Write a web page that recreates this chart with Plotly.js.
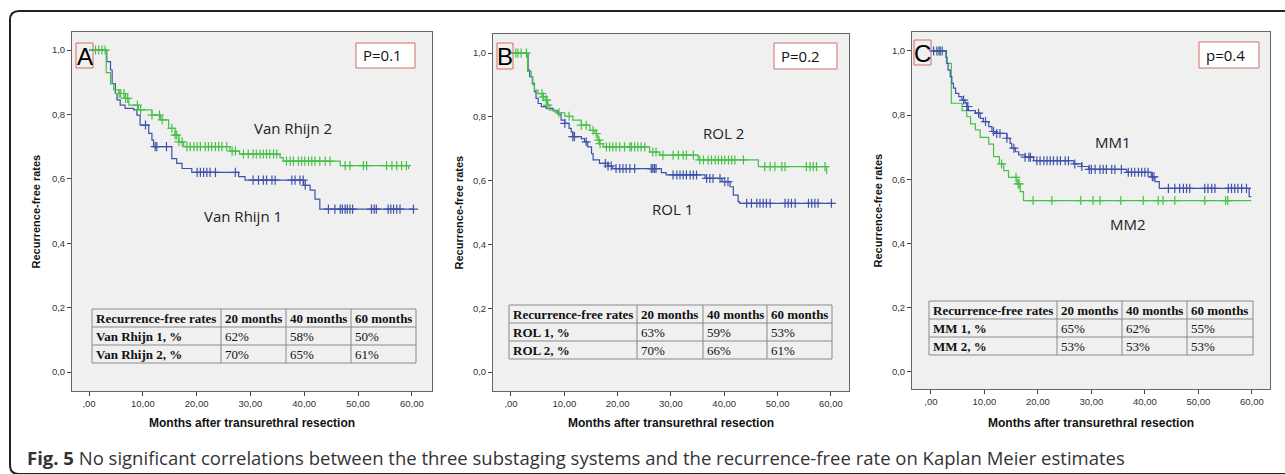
<!DOCTYPE html>
<html><head><meta charset="utf-8">
<script src="https://cdn.plot.ly/plotly-3.0.1.min.js"></script>
<style>html,body{margin:0;padding:0;background:#fff;}#chart{width:1285px;height:474px;}</style>
</head><body><div id="chart"></div>
<script>
// ---------- DATA ----------
const xTickVals = [0,10,20,30,40,50,60];
const xTickText = [',00','10,00','20,00','30,00','40,00','50,00','60,00'];
const yTickVals = [0,0.2,0.4,0.6,0.8,1.0];
const yTickText = ['0,0','0,2','0,4','0,6','0,8','1,0'];

// Panel A: Van Rhijn
const vr1_t = [0,3.3,4.0,4.3,4.9,5.2,5.8,6.7,8.3,8.9,9.5,11.1,11.7,12.0,15.4,16.3,17.3,19.1,27.8,29.0,39.9,41.1,42.0,42.9,60.3];
const vr1_s = [1.0,0.964,0.938,0.896,0.865,0.845,0.829,0.819,0.814,0.798,0.767,0.741,0.72,0.70,0.663,0.648,0.632,0.62,0.607,0.596,0.58,0.565,0.537,0.506,0.506];
const vr1_c = [10.5,12.3,12.6,14.4,20.1,20.7,21.3,21.9,22.5,23.5,27.2,30.5,31.5,32.4,33.0,34.0,34.6,37.7,38.3,39.2,39.8,40.2,44.5,45.7,46.7,47.1,47.6,48.0,48.5,49.0,52.5,53.0,53.4,55.6,56.1,56.6,57.2,57.8,60.3];
const vr2_t = [0,3.2,4.0,4.6,5.5,6.7,7.4,9.2,11.7,13.3,14.8,16.0,16.7,17.6,26.2,28.0,35.5,36.1,46.7,59.4,59.5];
const vr2_s = [1.0,0.93,0.895,0.876,0.865,0.85,0.829,0.814,0.798,0.783,0.757,0.736,0.715,0.70,0.686,0.677,0.666,0.655,0.641,0.632,0.632];
const vr2_c = [1.2,1.8,2.4,3.0,5.6,5.9,6.5,6.8,7.2,9.0,9.6,11.7,13.1,13.6,15.4,16.0,16.3,16.7,17.3,18.2,18.8,19.5,20.1,20.7,21.6,22.2,22.8,23.5,24.1,24.7,25.6,26.6,27.2,28.7,29.6,30.5,31.1,31.8,32.4,33.0,33.6,34.3,34.9,36.7,37.4,38.0,38.9,39.5,40.1,40.8,41.4,42.0,42.9,43.9,44.8,47.6,48.5,51.0,51.6,55.3,56.3,57.2,58.1,59.0];

// Panel B: ROL
const rol1_t = [0,3.2,3.5,4.0,4.4,4.7,5.1,5.7,6.6,7.9,8.8,9.4,10.1,10.9,11.3,11.6,13.2,13.8,14.4,15.1,15.4,16.6,18.2,19.1,28.2,29.1,36.4,39.6,41.1,41.7,42.6,42.9,60.4];
const rol1_s = [1.0,0.947,0.926,0.905,0.879,0.858,0.842,0.832,0.827,0.819,0.809,0.79,0.78,0.764,0.753,0.738,0.732,0.722,0.706,0.685,0.665,0.654,0.646,0.638,0.625,0.618,0.607,0.597,0.581,0.555,0.534,0.529,0.529];
const rol1_c = [10.1,11.6,11.9,14.1,17.7,18.2,18.8,19.7,20.4,21.0,21.6,22.3,23.2,26.3,26.6,26.9,27.2,30.4,31.1,31.7,32.3,32.9,33.6,34.2,34.8,36.7,37.3,37.9,39.2,40.1,40.7,44.2,45.1,46.1,46.7,47.3,47.9,48.6,51.4,52.0,52.6,53.3,55.8,56.4,57.0,57.6,60.1];
const rol2_t = [0,3.1,3.8,4.1,4.4,5.1,6.0,6.6,6.9,7.3,8.5,10.1,11.6,13.2,14.8,15.7,16.3,16.6,17.3,26.0,27.9,35.1,46.4,59.2,59.3];
const rol2_s = [1.0,0.943,0.926,0.9,0.884,0.873,0.863,0.853,0.837,0.821,0.813,0.802,0.79,0.774,0.758,0.748,0.727,0.716,0.706,0.69,0.68,0.665,0.644,0.623,0.623];
const rol2_c = [0.9,1.3,1.9,2.9,5.8,6.1,6.6,6.7,6.9,9.0,10.9,13.2,14.1,15.4,16.0,16.5,16.7,17.9,18.5,19.1,19.7,20.4,21.3,22.3,22.6,23.2,23.8,24.4,25.1,26.6,27.2,28.5,30.4,31.4,32.3,32.9,34.2,35.4,36.1,37.0,37.6,38.3,38.9,39.5,40.1,40.8,41.4,42.0,43.6,47.6,48.6,49.5,50.8,51.4,55.4,56.1,56.7,57.3,58.9];

// Panel C: MM
const mm1_t = [0,2.8,3.0,3.2,3.6,3.9,4.2,4.6,5.2,5.8,6.4,6.7,7.0,8.3,9.2,9.8,10.8,11.4,12.0,14.2,14.8,15.1,15.8,16.4,17.6,19.2,26.7,28.2,29.5,36.6,41.2,41.9,42.7,59.5,59.9];
const mm1_s = [1.0,0.98,0.961,0.94,0.92,0.899,0.884,0.868,0.858,0.847,0.837,0.827,0.814,0.806,0.79,0.78,0.764,0.749,0.743,0.728,0.712,0.697,0.686,0.676,0.669,0.658,0.648,0.64,0.631,0.622,0.608,0.593,0.572,0.546,0.546];
const mm1_c = [0.5,1.1,1.7,2.1,6.1,6.7,6.9,8.9,10.2,11.7,12.3,12.9,14.2,15.5,17.6,18.3,18.6,19.8,20.4,21.1,21.7,22.3,22.9,23.6,24.2,25.1,25.7,26.9,28.2,29.6,30.0,30.7,31.6,32.2,32.8,33.8,34.4,35.6,36.9,37.5,38.1,38.8,39.4,40.0,40.6,41.4,41.7,44.4,45.6,46.5,47.2,47.8,48.4,51.2,51.8,52.5,53.1,55.6,56.2,56.8,57.4,58.1,59.0];
const mm2_t = [0,2.9,3.8,5.8,6.7,7.4,8.3,9.2,10.8,11.7,12.8,13.6,14.5,16.1,16.7,17.3,59.9];
const mm2_s = [1.0,0.961,0.837,0.814,0.795,0.773,0.754,0.731,0.71,0.671,0.648,0.627,0.606,0.586,0.562,0.534,0.534];
const mm2_c = [1.4,1.7,13.2,15.9,16.3,16.5,19.1,22.6,28.0,30.3,31.6,35.5,39.7,42.5,43.4,45.6,51.2,55.1,55.5];

// Tables
const tableHeader = ['Recurrence-free rates','20 months','40 months','60 months'];
const tableA = [['Van Rhijn 1, %','62%','58%','50%'],['Van Rhijn 2, %','70%','65%','61%']];
const tableB = [['ROL 1, %','63%','59%','53%'],['ROL 2, %','70%','66%','61%']];
const tableC = [['MM 1, %','65%','62%','55%'],['MM 2, %','53%','53%','53%']];

const panelLetters = ['A','B','C'];
const pValues = ['P=0.1','P=0.2','p=0.4'];
const curveLabels = [['Van Rhijn 2','Van Rhijn 1'],['ROL 2','ROL 1'],['MM1','MM2']];
const xTitle = 'Months after transurethral resection';
const yTitle = 'Recurrence-free rates';
const captionBold = 'Fig. 5';
const captionText = ' No significant correlations between the three substaging systems and the recurrence-free rate on Kaplan Meier estimates';

// ---------- LAYOUT / DRAW ----------
const W = 1285, H = 474;
const px = x => x / W, py = y => 1 - y / H;
const BLUE = '#3f52aa', GREEN = '#48c048';

function stepAt(ts, ss, t) { let v = ss[0]; for (let i = 0; i < ts.length; i++) { if (ts[i] <= t) v = ss[i]; } return v; }

const panels = [
  {box:[72,32,432,391], xr:[-3.16,63.75], yr:[-0.059,1.056],
   curves:[[vr1_t,vr1_s,vr1_c,BLUE],[vr2_t,vr2_s,vr2_c,GREEN]], table:tableA,
   tx:[92,221,286,351,416], ty:[309,327,345,363], ytx:36,
   letterBox:[76,43,93,68], pBox:[356,43,415,68], labelPos:[[293,128],[243,216]]},
  {box:[493,34,849,391], xr:[-3.375,63.4], yr:[-0.0596,1.06],
   curves:[[rol1_t,rol1_s,rol1_c,BLUE],[rol2_t,rol2_s,rol2_c,GREEN]], table:tableB,
   tx:[509,637,703,767,832], ty:[305,323,341,359], ytx:458,
   letterBox:[497,43,513,69], pBox:[774,43,837,69], labelPos:[[723,133],[672,209]]},
  {box:[912,32,1270,389], xr:[-3.55,63.4], yr:[-0.053,1.059],
   curves:[[mm2_t,mm2_s,mm2_c,GREEN],[mm1_t,mm1_s,mm1_c,BLUE]], table:tableC,
   tx:[929,1057,1122,1187,1253], ty:[301,319,337,355], ytx:877,
   letterBox:[914,40,931,65], pBox:[1199,42,1259,68], labelPos:[[1113,142],[1128,224]]}
];

const data = [], shapes = [], annotations = [];
const layout = {width:W, height:H, margin:{l:0,r:0,t:0,b:0}, paper_bgcolor:'#ffffff', plot_bgcolor:'#f0f0f0', showlegend:false};

panels.forEach((p, i) => {
  const n = i === 0 ? '' : String(i + 1);
  const xa = 'x' + n, ya = 'y' + n;
  layout['xaxis' + n] = {domain:[px(p.box[0]), px(p.box[2])], range:p.xr, anchor:ya,
    showline:true, mirror:true, linecolor:'#666', linewidth:1, ticks:'outside', ticklen:4, tickcolor:'#444',
    tickvals:xTickVals, ticktext:xTickText, tickfont:{family:'Liberation Sans, Arial', size:9.5, color:'#333'},
    showgrid:false, zeroline:false, fixedrange:true};
  layout['yaxis' + n] = {domain:[py(p.box[3]), py(p.box[1])], range:p.yr, anchor:xa,
    showline:true, mirror:true, linecolor:'#666', linewidth:1, ticks:'outside', ticklen:4, tickcolor:'#444',
    tickvals:yTickVals, ticktext:yTickText, tickfont:{family:'Liberation Sans, Arial', size:9.5, color:'#333'},
    showgrid:false, zeroline:false, fixedrange:true};

  p.curves.forEach(c => {
    const [ts, ss, cs, col] = c;
    data.push({type:'scatter', mode:'lines', x:ts, y:ss, xaxis:xa, yaxis:ya, line:{shape:'hv', color:col, width:1.2}, hoverinfo:'skip'});
    data.push({type:'scatter', mode:'markers', x:cs, y:cs.map(t => stepAt(ts, ss, t)), xaxis:xa, yaxis:ya,
      marker:{symbol:'cross-thin-open', size:6.5, line:{color:col, width:1.2}, color:col}, hoverinfo:'skip'});
  });

  // axis titles
  annotations.push({text:'<b>' + xTitle + '</b>', xref:'paper', yref:'paper', x:px((p.box[0] + p.box[2]) / 2), y:py(423),
    showarrow:false, xanchor:'center', yanchor:'middle', font:{family:'Liberation Sans, Arial', size:12, color:'#111'}});
  annotations.push({text:'<b>' + yTitle + '</b>', xref:'paper', yref:'paper', x:px(p.ytx), y:py((p.box[1] + p.box[3]) / 2),
    textangle:-90, showarrow:false, xanchor:'center', yanchor:'middle', font:{family:'Liberation Sans, Arial', size:11, color:'#111'}});

  // letter and p boxes
  const lb = p.letterBox, pb = p.pBox;
  shapes.push({type:'rect', xref:'paper', yref:'paper', x0:px(lb[0]), x1:px(lb[2]), y0:py(lb[3]), y1:py(lb[1]), line:{color:'#d46a6a', width:1}});
  annotations.push({text:panelLetters[i], xref:'paper', yref:'paper', x:px((lb[0] + lb[2]) / 2), y:py((lb[1] + lb[3]) / 2 + 1),
    showarrow:false, xanchor:'center', yanchor:'middle', font:{family:'Liberation Sans, Arial', size:24, color:'#000'}});
  shapes.push({type:'rect', xref:'paper', yref:'paper', x0:px(pb[0]), x1:px(pb[2]), y0:py(pb[3]), y1:py(pb[1]), line:{color:'#d46a6a', width:1}, fillcolor:'#ffffff'});
  annotations.push({text:pValues[i], xref:'paper', yref:'paper', x:px(pb[0] + 5), y:py((pb[1] + pb[3]) / 2),
    showarrow:false, xanchor:'left', yanchor:'middle', font:{family:'Open Sans', size:15, color:'#111'}});

  // curve labels
  curveLabels[i].forEach((lab, k) => {
    annotations.push({text:lab, xref:'paper', yref:'paper', x:px(p.labelPos[k][0]), y:py(p.labelPos[k][1]),
      showarrow:false, xanchor:'center', yanchor:'middle', font:{family:'Open Sans', size:15, color:'#222'}});
  });

  // table
  const tx = p.tx, ty = p.ty;
  tx.forEach(x => shapes.push({type:'line', xref:'paper', yref:'paper', x0:px(x), x1:px(x), y0:py(ty[0]), y1:py(ty[ty.length - 1]), line:{color:'#8a8a8a', width:1}}));
  ty.forEach(y => shapes.push({type:'line', xref:'paper', yref:'paper', x0:px(tx[0]), x1:px(tx[tx.length - 1]), y0:py(y), y1:py(y), line:{color:'#8a8a8a', width:1}}));
  const rows = [tableHeader].concat(p.table);
  rows.forEach((row, r) => {
    row.forEach((cell, cI) => {
      const bold = r === 0 || cI === 0;
      annotations.push({text:bold ? '<b>' + cell + '</b>' : cell, xref:'paper', yref:'paper', x:px(tx[cI] + 2), y:py((ty[r] + ty[r + 1]) / 2),
        showarrow:false, xanchor:'left', yanchor:'middle', font:{family:'Liberation Serif, Times New Roman', size:13, color:'#111'}});
    });
  });
});

// outer rounded frame
(function(){
  const x0 = 10, y0 = 11, x1 = 1300, y1 = 474, r = 9;
  const d = 'M' + px(x0 + r) + ',' + py(y0) + ' L' + px(x1 - r) + ',' + py(y0) +
    ' Q' + px(x1) + ',' + py(y0) + ' ' + px(x1) + ',' + py(y0 + r) +
    ' L' + px(x1) + ',' + py(y1 - r) + ' Q' + px(x1) + ',' + py(y1) + ' ' + px(x1 - r) + ',' + py(y1) +
    ' L' + px(x0 + r) + ',' + py(y1) + ' Q' + px(x0) + ',' + py(y1) + ' ' + px(x0) + ',' + py(y1 - r) +
    ' L' + px(x0) + ',' + py(y0 + r) + ' Q' + px(x0) + ',' + py(y0) + ' ' + px(x0 + r) + ',' + py(y0) + ' Z';
  shapes.push({type:'path', xref:'paper', yref:'paper', path:d, line:{color:'#222', width:2}, layer:'below'});
})();

annotations.push({text:'<b>' + captionBold + '</b>' + captionText, xref:'paper', yref:'paper', x:px(25), y:py(457),
  showarrow:false, xanchor:'left', yanchor:'middle', font:{family:'Open Sans', size:18.5, color:'#333'}});

layout.shapes = shapes;
layout.annotations = annotations;
Plotly.newPlot('chart', data, layout, {displayModeBar:false, staticPlot:true});
</script>
</body></html>
